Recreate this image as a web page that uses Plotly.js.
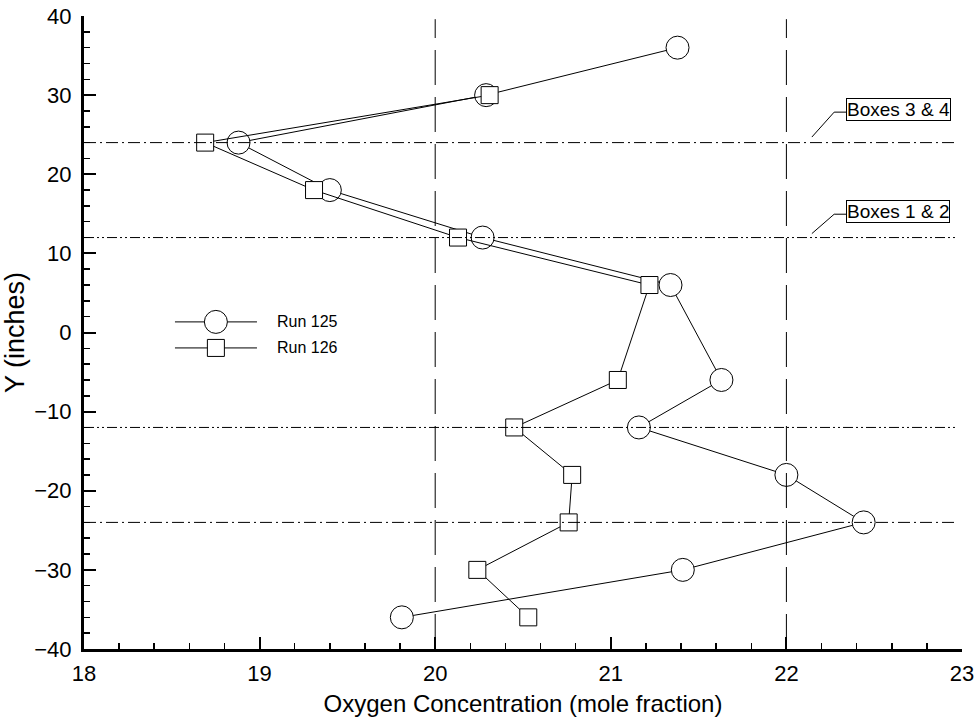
<!DOCTYPE html>
<html>
<head>
<meta charset="utf-8">
<script src="https://cdn.plot.ly/plotly-3.0.1.min.js"></script>
<style>
html,body{margin:0;padding:0;background:#fff;}
#chart{width:980px;height:721px;}
</style>
</head>
<body>
<div id="chart"></div>
<script>
// ---- data ----
const run125X = [21.38, 20.29, 18.88, 19.40, 20.27, 21.34, 21.63, 21.16, 22.00, 22.44, 21.41, 19.81];
const run125Y = [36, 30, 24, 18, 12, 6, -6, -12, -18, -24, -30, -36];
const run126X = [20.31, 18.69, 19.31, 20.13, 21.22, 21.04, 20.45, 20.78, 20.76, 20.24, 20.53];
const run126Y = [30, 24, 18, 12, 6, -6, -12, -18, -24, -30, -36];
const seriesNames = ["Run 125", "Run 126"];
const refXLines = [20, 22];
const refYLines = [24, 12, -12, -24];
const refYDash = ["12px,4px,2px,4px", "10px,3px,2px,3px,2px,3px", "10px,3px,2px,3px,2px,3px", "12px,4px,2px,4px"];
const boxLabels = ["Boxes 3 & 4", "Boxes 1 & 2"];
const boxLabelY = [28.2, 15.3];
const boxLeaderY = [24.7, 12.5];

const FONT = "Liberation Sans, Arial, sans-serif";

const traces = [
  {
    x: run125X, y: run125Y, name: seriesNames[0], type: "scatter", mode: "lines+markers",
    line: {color: "#000", width: 1},
    marker: {symbol: "circle", size: 23, color: "#fff", line: {color: "#000", width: 1}},
    showlegend: false, cliponaxis: false
  },
  {
    x: run126X, y: run126Y, name: seriesNames[1], type: "scatter", mode: "lines+markers",
    line: {color: "#000", width: 1},
    marker: {symbol: "square", size: 17, color: "#fff", line: {color: "#000", width: 1}},
    showlegend: false, cliponaxis: false
  }
];

const shapes = [];
refXLines.forEach(v => shapes.push({
  type: "line", xref: "x", yref: "y", x0: v, x1: v, y0: -40, y1: 39.6,
  line: {color: "#000", width: 1, dash: "35px,12px"}, layer: "above"
}));
refYLines.forEach((v, i) => shapes.push({
  type: "line", xref: "x", yref: "y", x0: 18, x1: 22.96, y0: v, y1: v,
  line: {color: "#000", width: 1, dash: refYDash[i]}, layer: "above"
}));
// leader lines for box labels
boxLeaderY.forEach((v, i) => {
  const yTop = boxLabelY[i] - 0.35;
  shapes.push({
    type: "path", xref: "x", yref: "y",
    path: `M 22.145 ${v} L 22.272 ${yTop} L 22.34 ${yTop}`,
    line: {color: "#000", width: 1}, layer: "above"
  });
});
// manual legend
const legX0 = 18.518, legX1 = 18.985, legXc = 18.751;
const legY = [1.34, -1.95];
legY.forEach((ly, i) => {
  shapes.push({type: "line", xref: "x", yref: "y", x0: legX0, x1: legX1, y0: ly, y1: ly,
    line: {color: "#000", width: 1}, layer: "above"});
  const half = i === 0 ? 11.5 : 8.5;
  shapes.push({type: i === 0 ? "circle" : "rect", xref: "x", yref: "y",
    xsizemode: "pixel", ysizemode: "pixel", xanchor: legXc, yanchor: ly,
    x0: -half, x1: half, y0: -half, y1: half,
    fillcolor: "#fff", line: {color: "#000", width: 1}, layer: "above"});
});

const annotations = [];
boxLabels.forEach((t, i) => annotations.push({
  x: 22.34, y: boxLabelY[i], xref: "x", yref: "y", xanchor: "left", yanchor: "middle",
  text: t, showarrow: false, font: {family: FONT, size: 19, color: "#000"},
  bgcolor: "#fff", bordercolor: "#000", borderwidth: 1, borderpad: 0
}));
seriesNames.forEach((t, i) => annotations.push({
  x: 19.087, y: legY[i], xref: "x", yref: "y", xanchor: "left", yanchor: "middle",
  text: t, showarrow: false, font: {family: FONT, size: 16, color: "#000"}
}));

const layout = {
  width: 980, height: 721,
  margin: {l: 84, r: 17.6, t: 15.7, b: 72, pad: 0},
  paper_bgcolor: "#fff", plot_bgcolor: "#fff",
  font: {family: FONT, color: "#000"},
  showlegend: false,
  xaxis: {
    range: [18, 23], dtick: 1, tick0: 18, showgrid: false, zeroline: false,
    showline: true, linecolor: "#000", linewidth: 3, mirror: false,
    ticks: "inside", ticklen: 12, tickwidth: 2, tickcolor: "#000",
    minor: {dtick: 0.2, ticks: "inside", ticklen: 6, tickwidth: 1.5, tickcolor: "#000", showgrid: false},
    tickfont: {family: FONT, size: 22, color: "#000"},
    ticklabelstandoff: 3,
    title: {text: "Oxygen Concentration (mole fraction)", font: {family: FONT, size: 24, color: "#000"}, standoff: 10},
    automargin: false, fixedrange: true
  },
  yaxis: {
    range: [-40, 40], dtick: 10, tick0: 0, showgrid: false, zeroline: false,
    showline: true, linecolor: "#000", linewidth: 3, mirror: false,
    ticks: "inside", ticklen: 12, tickwidth: 2, tickcolor: "#000",
    minor: {dtick: 2, ticks: "inside", ticklen: 6, tickwidth: 1.5, tickcolor: "#000", showgrid: false},
    tickfont: {family: FONT, size: 22, color: "#000"},
    ticklabelstandoff: 5,
    title: {text: "Y (inches)", font: {family: FONT, size: 27, color: "#000"}, standoff: 3},
    automargin: false, fixedrange: true
  },
  shapes: shapes,
  annotations: annotations
};

Plotly.newPlot("chart", traces, layout, {staticPlot: true, displayModeBar: false});
</script>
</body>
</html>
